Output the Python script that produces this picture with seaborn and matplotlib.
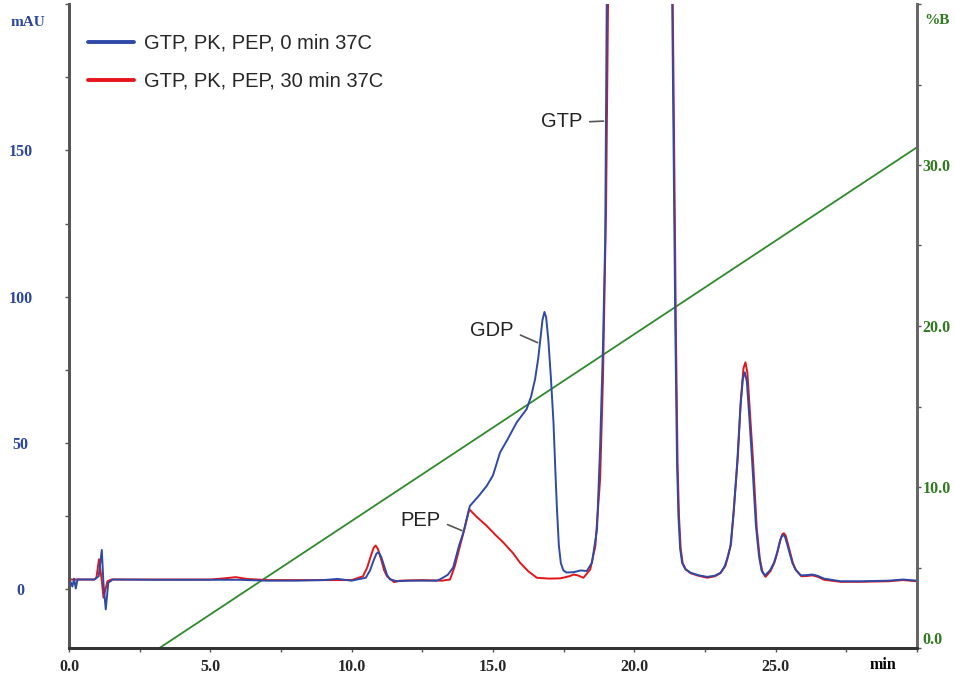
import numpy as np
import matplotlib
matplotlib.use("Agg")
import matplotlib.pyplot as plt
from matplotlib.ticker import MultipleLocator, FixedLocator
import seaborn as sns

# chromatogram at 0 min (blue)
time_0min = [0.0, 0.06, 0.12, 0.18, 0.24, 0.3, 0.9, 1.05, 1.16, 1.22, 1.3, 1.39, 1.55,
             3.0, 5.0, 6.0, 7.0, 8.0, 9.0, 9.5, 10.0, 10.5, 10.65, 10.78, 10.88, 10.96,
             11.05, 11.15, 11.25, 11.35, 11.6, 12.0, 12.5, 13.0, 13.12, 13.4, 13.59,
             13.8, 13.95, 14.18, 14.5, 14.78, 15.0, 15.25, 15.5, 15.84, 16.19, 16.35,
             16.49, 16.6, 16.67, 16.75, 16.82, 16.88, 16.96, 17.05, 17.14, 17.2, 17.26,
             17.33, 17.4, 17.49, 17.6, 17.85, 18.1, 18.32, 18.5, 18.68, 18.79, 18.89,
             18.97, 19.05, 19.5, 20.2, 20.9, 21.2, 21.35, 21.45, 21.51, 21.56, 21.62,
             21.69, 21.8, 21.99, 22.3, 22.58, 22.85, 23.05, 23.2, 23.3, 23.4, 23.5,
             23.64, 23.75, 23.84, 23.91, 23.98, 24.06, 24.17, 24.3, 24.41, 24.5, 24.62,
             24.8, 24.94, 25.05, 25.15, 25.22, 25.27, 25.33, 25.42, 25.52, 25.59, 25.7,
             25.89, 26.1, 26.3, 26.5, 26.71, 27.3, 28.0, 29.0, 29.5, 30.0]
mau_0min = [0.5, 2.5, 1.0, 3.7, 0.3, 3.4, 3.4, 4.5, 13.5, 2.0, -6.8, 2.3, 3.4,
            3.3, 3.3, 3.3, 3.0, 3.0, 3.2, 3.6, 3.0, 4.0, 6.5, 10.0, 12.3, 12.7,
            11.0, 8.0, 5.0, 3.5, 2.8, 3.0, 3.0, 3.0, 3.4, 5.0, 7.5,
            15.0, 19.4, 28.5, 32.0, 35.4, 39.0, 46.8, 51.0, 57.1, 61.6, 66.0,
            71.9, 79.0, 85.0, 92.0, 94.8, 93.0, 85.0, 72.0, 57.0, 42.0, 28.0,
            15.0, 9.0, 6.5, 5.8, 5.9, 6.5, 6.3, 9.1, 20.5, 49.0, 83.0,
            120.0, 240.0, 700.0, 900.0, 700.0, 350.0, 190.0, 89.0, 43.4, 25.0, 14.0,
            9.1, 7.0, 5.7, 4.8, 4.3, 4.7, 5.7, 8.0, 11.0, 14.8, 25.0,
            43.4, 62.0, 72.0, 74.2, 71.0, 60.0, 43.4, 22.0, 11.4, 6.5, 4.8,
            6.5, 9.1, 12.5, 16.5, 18.3, 18.6, 18.0, 15.0, 11.5, 9.1, 6.8,
            4.8, 4.9, 5.1, 4.6, 3.7, 2.8, 2.8, 3.0, 3.4, 3.0]

# chromatogram at 30 min (red)
time_30min = [0.0, 0.9, 0.97, 1.06, 1.16, 1.22, 1.36, 1.5, 5.0, 5.5, 5.9, 6.3, 7.0,
              9.5, 10.0, 10.4, 10.55, 10.68, 10.78, 10.85, 10.93, 11.05, 11.15, 11.25,
              11.5, 11.7, 12.5, 13.2, 13.48, 13.65, 13.83, 14.0, 14.16, 14.4, 14.78,
              15.1, 15.37, 15.7, 15.96, 16.25, 16.55, 17.0, 17.38, 17.7, 17.85, 18.0,
              18.2, 18.44, 18.62, 18.79, 18.89, 19.0, 19.1, 19.5, 20.2, 20.9, 21.2,
              21.37, 21.47, 21.53, 21.58, 21.64, 21.71, 21.82, 22.0, 22.3, 22.58, 22.85,
              23.05, 23.22, 23.32, 23.42, 23.52, 23.66, 23.77, 23.86, 23.93, 24.0,
              24.08, 24.2, 24.33, 24.44, 24.53, 24.64, 24.82, 24.96, 25.07, 25.17,
              25.24, 25.29, 25.35, 25.44, 25.54, 25.61, 25.72, 25.91, 26.1, 26.3, 26.5,
              26.71, 27.3, 28.0, 29.0, 29.5, 30.0]
mau_30min = [3.4, 3.4, 4.0, 10.3, 3.0, -2.8, 2.8, 3.4, 3.4, 3.8, 4.2, 3.6, 3.2,
             3.2, 3.2, 4.5, 7.5, 11.5, 14.3, 15.0, 13.8, 10.0, 6.5, 4.5,
             2.5, 3.0, 3.2, 3.0, 3.4, 8.0, 14.8, 21.0, 27.4, 25.0, 21.7,
             18.5, 16.0, 12.5, 9.1, 6.2, 4.0, 3.7, 3.8, 4.5, 5.1, 4.8,
             4.0, 6.8, 14.8, 37.7, 72.0, 130.0, 230.0, 700.0, 900.0, 700.0, 350.0,
             190.0, 89.0, 43.0, 25.0, 14.0, 9.0, 6.8, 5.5, 4.6, 4.0, 4.5,
             5.6, 8.0, 11.5, 15.5, 27.0, 45.0, 65.0, 75.5, 77.6, 74.0,
             62.0, 44.0, 21.0, 10.5, 6.0, 4.3, 6.3, 9.3, 13.0, 17.0,
             18.9, 19.2, 18.5, 15.3, 11.6, 9.0, 6.6, 4.5, 4.6, 4.8, 4.3,
             3.3, 2.6, 2.6, 2.8, 3.2, 2.8]

# solvent B gradient
gradient_time = [3.2, 30.0]
gradient_pct = [0.0, 31.1]

x_ticks = [0, 5, 10, 15, 20, 25]
x_labels = ["0.0", "5.0", "10.0", "15.0", "20.0", "25.0"]
left_ticks = [0, 50, 100, 150]
right_ticks = [0, 10, 20, 30]
right_labels = ["0.0", "10.0", "20.0", "30.0"]

blue = "#2f4aa6"
red = "#e3151b"
green = "#2e8a2a"
label_green = "#2f7a1e"
label_blue = "#2b45a0"

sns.set_style("white")
plt.rcParams["font.family"] = ["Liberation Sans", "DejaVu Sans"]

fig = plt.figure(figsize=(9.55, 6.77), dpi=100)
ax = fig.add_axes([69 / 955, 29 / 677, 848 / 955, 644 / 677])
ax2 = ax.twinx()
ax.set_zorder(ax2.get_zorder() + 1)
ax.patch.set_visible(False)

sns.lineplot(x=gradient_time, y=gradient_pct, ax=ax2, color=green, linewidth=1.3)
sns.lineplot(x=time_30min, y=mau_30min, ax=ax, color=red, linewidth=1.4,
             label="GTP, PK, PEP, 30 min 37C", estimator=None)
sns.lineplot(x=time_0min, y=mau_0min, ax=ax, color=blue, linewidth=1.4,
             label="GTP, PK, PEP, 0 min 37C", estimator=None)

ax.set_xlim(0, 30)
ax.set_ylim(-20, 200)
ax2.set_ylim(0, 40)
ax.set_xlabel("")
ax.set_ylabel("")
ax2.set_ylabel("")

serif_bold = dict(family="Liberation Serif", weight="bold", size=11.5)

ax.xaxis.set_major_locator(FixedLocator(x_ticks))
ax.set_xticklabels(x_labels, **serif_bold)
ax.xaxis.set_minor_locator(MultipleLocator(2.5))
ax.yaxis.set_major_locator(FixedLocator(left_ticks))
ax.set_yticklabels([str(v) for v in left_ticks], color=label_blue, ha="center", **serif_bold)
ax.yaxis.set_minor_locator(MultipleLocator(25))
ax2.yaxis.set_major_locator(FixedLocator(right_ticks))
ax2.set_yticklabels(right_labels, color=label_green, **serif_bold)
ax2.yaxis.set_minor_locator(MultipleLocator(5))
# the lowest %B label sits just above the baseline
ax2.get_yticklabels()[0].set_verticalalignment("bottom")

ax.tick_params(axis="x", which="both", direction="out", length=3, width=1, color="#555555",
               pad=5, bottom=True)
ax.tick_params(axis="y", which="both", direction="out", length=3, width=1, color="#555555",
               pad=32, left=True)
ax2.tick_params(axis="y", which="both", direction="out", length=3, width=1, color="#555555",
                pad=1, right=True)

for a in (ax, ax2):
    a.spines["top"].set_visible(False)
    a.spines["left"].set_color("#555555")
    a.spines["right"].set_color("#666666")
    a.spines["bottom"].set_color("#333333")
    a.spines["left"].set_linewidth(2)
    a.spines["right"].set_linewidth(2)
    a.spines["bottom"].set_linewidth(2)

fig.text(28 / 955, 1 - 22 / 677, "mAU", color=label_blue, ha="center", va="center",
         family="Liberation Serif", weight="bold", size=11)
fig.text(937 / 955, 1 - 20 / 677, "%B", color=label_green, ha="center", va="center",
         family="Liberation Serif", weight="bold", size=11)
fig.text(883 / 955, 1 - 665 / 677, "min", color="black", ha="center", va="center",
         family="Liberation Serif", weight="bold", size=11.5)

# peak labels with short leader lines
peaks = [("GTP", 18.16, 160.0, 18.91, 160.0),
         ("GDP", 15.72, 88.3, 16.58, 84.3),
         ("PEP", 13.14, 23.5, 13.90, 20.1)]
for name, tx, ty, px, py in peaks:
    ax.annotate(name, xy=(px, py), xytext=(tx, ty), ha="right", va="center",
                fontsize=14.5, color="#222222",
                arrowprops=dict(arrowstyle="-", color="#555555", lw=1.2,
                                relpos=(1, 0.45), shrinkA=3, shrinkB=0))

handles, labels = ax.get_legend_handles_labels()
leg = ax.legend(handles[::-1], labels[::-1], loc="upper left",
                bbox_to_anchor=(0.0224, 0.954), frameon=False, fontsize=14.5,
                handlelength=2.3, handletextpad=0.5, labelspacing=0.95,
                borderpad=0, borderaxespad=0)
for line in leg.get_lines():
    line.set_linewidth(2.8)

fig.savefig("out.png", dpi=100, facecolor="white")
